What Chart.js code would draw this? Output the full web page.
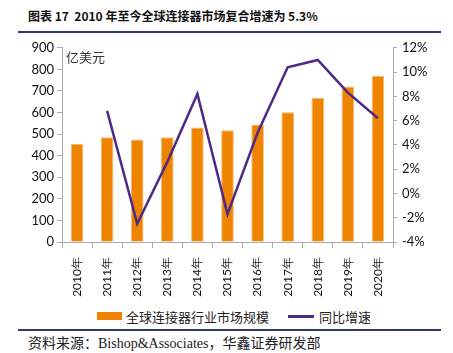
<!DOCTYPE html>
<html>
<head>
<meta charset="utf-8">
<script src="https://cdn.jsdelivr.net/npm/chart.js@4.4.1/dist/chart.umd.min.js"></script>
<style>
  body { margin: 0; width: 453px; height: 353px; background: #fff; position: relative; overflow: hidden; font-family: "Noto Sans CJK SC", sans-serif; }
  #title { position: absolute; left: 28px; top: 7px; font-size: 12px; font-weight: bold; color: #111; white-space: nowrap; }
  .rule { position: absolute; left: 18px; width: 423px; height: 2px; background: #2E3A63; }
  #wrap { position: absolute; left: 0; top: 35px; width: 453px; height: 270px; }
  #unit { position: absolute; left: 66px; top: 47px; font-size: 13px; color: #333; }
  #legend { position: absolute; top: 305px; left: 97px; font-size: 13px; color: #222; white-space: nowrap; }
  #legend span { display: inline-block; vertical-align: middle; }
  #source { position: absolute; left: 28px; top: 332px; font-size: 14px; color: #222; font-family: "Liberation Serif", "Noto Sans CJK SC", serif; white-space: nowrap; }
</style>
</head>
<body>
<div id="title">图表 17&nbsp; 2010 年至今全球连接器市场复合增速为 5.3%</div>
<div class="rule" style="top:31px"></div>
<div id="wrap"><canvas id="chart" width="453" height="270"></canvas></div>
<div id="unit">亿美元</div>
<div id="legend">
  <span style="width:25px;height:8px;background:#EE8400;margin-right:4px"></span><span>全球连接器行业市场规模</span>
  <span style="width:26px;height:3px;background:#4E2A86;margin-left:16px;margin-right:5px"></span><span>同比增速</span>
</div>
<div class="rule" style="top:329px"></div>
<div id="source">资料来源：Bishop&amp;Associates，华鑫证券研发部</div>
<script>
const years = ["2010年", "2011年", "2012年", "2013年", "2014年", "2015年", "2016年", "2017年", "2018年", "2019年", "2020年"];
const marketSize = [455, 486, 475, 486, 531, 518, 545, 601, 668, 721, 769];
const growthRate = [null, 6.8, -2.5, 2.6, 8.2, -1.7, 5.0, 10.4, 11.0, 8.3, 6.2];

const tickFont = { family: "Lato, 'Open Sans', sans-serif", size: 13 };

new Chart(document.getElementById('chart'), {
  type: 'bar',
  data: {
    labels: years,
    datasets: [
      {
        label: '全球连接器行业市场规模',
        data: marketSize,
        backgroundColor: '#EE8400',
        borderColor: '#F6B870',
        borderWidth: { top: 1, left: 1, right: 1, bottom: 0 },
        barPercentage: 0.42,
        categoryPercentage: 1,
        yAxisID: 'y',
        order: 2
      },
      {
        type: 'line',
        label: '同比增速',
        data: growthRate,
        borderColor: '#4E2A86',
        borderWidth: 2.5,
        pointRadius: 0,
        tension: 0,
        yAxisID: 'y1',
        order: 1
      }
    ]
  },
  options: {
    responsive: false,
    animation: false,
    layout: { padding: { top: 12, left: 0, right: 0, bottom: 0 } },
    plugins: {
      legend: { display: false },
      tooltip: { enabled: false }
    },
    scales: {
      x: {
        offset: true,
        grid: { display: true, drawOnChartArea: false, offset: true, tickLength: 6, color: '#AAAAAA' },
        border: { color: '#AAAAAA' },
        ticks: { minRotation: 90, maxRotation: 90, color: '#111', font: { family: "Lato, 'Open Sans', sans-serif", size: 12 }, padding: 9 },
        afterFit: (s) => { s.height = 63; }
      },
      y: {
        position: 'left',
        min: 0,
        max: 900,
        ticks: { stepSize: 100, color: '#111', font: tickFont, padding: 3 },
        grid: { drawOnChartArea: false, tickLength: 5, color: '#AAAAAA' },
        border: { color: '#AAAAAA' },
        afterFit: (s) => { s.width = 62; }
      },
      y1: {
        position: 'right',
        min: -4,
        max: 12,
        ticks: { stepSize: 2, color: '#111', font: tickFont, padding: 5, callback: (v) => v + '%' },
        grid: { drawOnChartArea: false, tickLength: 4, color: '#AAAAAA' },
        border: { color: '#AAAAAA' },
        afterFit: (s) => { s.width = 60; }
      }
    }
  }
});
</script>
</body>
</html>
